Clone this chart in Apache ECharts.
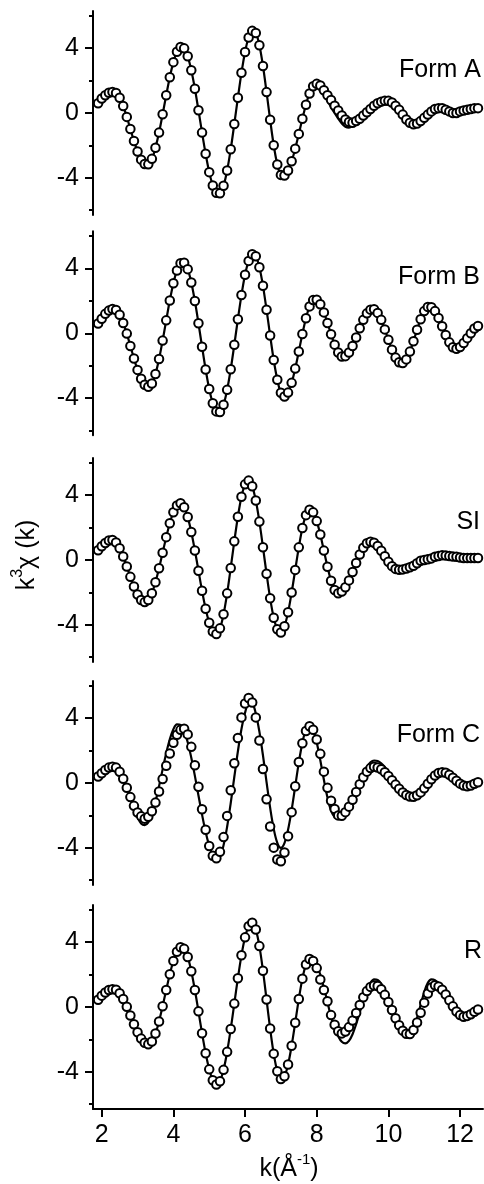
<!DOCTYPE html>
<html><head><meta charset="utf-8">
<script src="https://cdn.jsdelivr.net/npm/echarts@6/dist/echarts.min.js"></script>
<style>html,body{margin:0;padding:0;background:#fff}#c{width:484px;height:1184px}</style>
</head><body><div id="c"></div>
<script>
// k values (Å^-1)
const K = [1.9,2.0,2.1,2.2,2.3,2.4,2.5,2.6,2.7,2.8,
2.9,3.0,3.1,3.2,3.3,3.4,3.5,3.6,3.7,3.8,
3.9,4.0,4.1,4.2,4.3,4.4,4.5,4.6,4.7,4.8,
4.9,5.0,5.1,5.2,5.3,5.4,5.5,5.6,5.7,5.8,
5.9,6.0,6.1,6.2,6.3,6.4,6.5,6.6,6.7,6.8,
6.9,7.0,7.1,7.2,7.3,7.4,7.5,7.6,7.7,7.8,
7.9,8.0,8.1,8.2,8.3,8.4,8.5,8.6,8.7,8.8,
8.9,9.0,9.1,9.2,9.3,9.4,9.5,9.6,9.7,9.8,
9.9,10.0,10.1,10.2,10.3,10.4,10.5,10.6,10.7,10.8,
10.9,11.0,11.1,11.2,11.3,11.4,11.5,11.6,11.7,11.8,
11.9,12.0,12.1,12.2,12.3,12.4,12.5];

const panelNames = ['Form A','Form B','SI','Form C','R'];

const formA_data = [0.6,0.9,1.1,1.25,1.3,1.24,0.94,0.43,-0.24,-0.99,
-1.73,-2.38,-2.88,-3.15,-3.17,-2.83,-2.15,-1.21,-0.08,1.1,
2.21,3.14,3.78,4.08,3.99,3.5,2.64,1.5,0.17,-1.21,
-2.52,-3.65,-4.47,-4.92,-4.96,-4.49,-3.55,-2.24,-0.68,0.94,
2.48,3.77,4.66,5.07,4.94,4.18,2.9,1.29,-0.42,-1.99,
-3.18,-3.82,-3.86,-3.55,-2.98,-2.2,-1.29,-0.35,0.51,1.2,
1.65,1.8,1.7,1.4,1.1,0.8,0.45,0.15,-0.15,-0.4,
-0.55,-0.6,-0.5,-0.35,-0.15,0.05,0.25,0.45,0.6,0.7,
0.75,0.75,0.65,0.45,0.2,-0.1,-0.4,-0.6,-0.7,-0.65,
-0.5,-0.3,-0.1,0.1,0.25,0.3,0.3,0.2,0.1,0.0,
0.0,0.1,0.15,0.2,0.25,0.3,0.3];
const formA_fit = [0.6,0.9,1.12,1.27,1.32,1.24,0.94,0.43,-0.24,-0.99,
-1.73,-2.38,-2.88,-3.18,-3.22,-2.88,-2.15,-1.21,-0.08,1.1,
2.21,3.14,3.8,4.12,4.02,3.5,2.64,1.5,0.17,-1.21,
-2.52,-3.65,-4.47,-4.92,-4.96,-4.49,-3.55,-2.24,-0.68,0.94,
2.48,3.77,4.66,5.07,4.94,4.18,2.9,1.29,-0.42,-1.99,
-3.18,-3.82,-3.86,-3.55,-2.98,-2.2,-1.29,-0.35,0.51,1.25,
1.72,1.9,1.75,1.3,0.8,0.35,0.0,-0.35,-0.65,-0.85,
-0.9,-0.8,-0.6,-0.4,-0.15,0.1,0.3,0.5,0.65,0.78,
0.82,0.8,0.68,0.45,0.18,-0.12,-0.42,-0.62,-0.72,-0.66,
-0.5,-0.3,-0.1,0.1,0.25,0.3,0.28,0.18,0.08,0.0,
0.0,0.08,0.14,0.2,0.25,0.28,0.3];

const formB_data = [0.6,0.9,1.2,1.4,1.5,1.44,1.15,0.64,-0.02,-0.78,
-1.56,-2.26,-2.81,-3.18,-3.3,-3.1,-2.51,-1.59,-0.45,0.8,
2.02,3.09,3.88,4.33,4.36,3.96,3.14,1.99,0.62,-0.83,
-2.23,-3.44,-4.32,-4.82,-4.86,-4.41,-3.49,-2.22,-0.71,0.87,
2.36,3.61,4.47,4.88,4.76,4.08,2.93,1.45,-0.14,-1.65,
-2.87,-3.67,-3.9,-3.66,-3.06,-2.18,-1.12,-0.04,0.93,1.66,
2.05,2.07,1.79,1.29,0.64,-0.06,-0.7,-1.18,-1.43,-1.41,
-1.18,-0.78,-0.26,0.31,0.83,1.23,1.46,1.48,1.26,0.83,
0.24,-0.4,-1.01,-1.5,-1.79,-1.84,-1.61,-1.13,-0.49,0.22,
0.87,1.37,1.63,1.61,1.37,0.95,0.43,-0.1,-0.56,-0.86,
-0.95,-0.85,-0.6,-0.3,0.0,0.3,0.45];
const formB_fit = [0.6,0.9,1.2,1.4,1.5,1.44,1.15,0.64,-0.02,-0.78,
-1.56,-2.26,-2.81,-3.18,-3.3,-3.1,-2.51,-1.59,-0.45,0.8,
2.02,3.09,3.88,4.33,4.36,3.96,3.14,1.99,0.62,-0.83,
-2.23,-3.44,-4.32,-4.82,-4.86,-4.41,-3.49,-2.22,-0.71,0.87,
2.36,3.61,4.47,4.88,4.76,4.08,2.93,1.45,-0.14,-1.65,
-2.87,-3.67,-3.9,-3.66,-3.06,-2.18,-1.12,-0.04,0.93,1.66,
2.05,2.07,1.79,1.29,0.64,-0.06,-0.7,-1.18,-1.43,-1.41,
-1.18,-0.78,-0.26,0.31,0.83,1.23,1.46,1.48,1.26,0.83,
0.24,-0.4,-1.01,-1.5,-1.79,-1.84,-1.61,-1.13,-0.49,0.22,
0.87,1.37,1.63,1.61,1.37,0.95,0.43,-0.1,-0.56,-0.86,
-0.95,-0.85,-0.6,-0.3,0.0,0.3,0.45];

const si_data = [0.6,0.85,1.05,1.2,1.23,1.08,0.72,0.22,-0.4,-1.04,
-1.64,-2.13,-2.47,-2.6,-2.47,-2.05,-1.37,-0.51,0.45,1.41,
2.27,2.95,3.37,3.5,3.26,2.65,1.73,0.59,-0.66,-1.9,
-3.01,-3.87,-4.41,-4.57,-4.22,-3.35,-2.06,-0.49,1.15,2.67,
3.9,4.67,4.9,4.55,3.67,2.37,0.79,-0.85,-2.36,-3.56,
-4.28,-4.47,-4.09,-3.23,-2.01,-0.61,0.78,1.97,2.77,3.1,
2.94,2.4,1.57,0.58,-0.42,-1.28,-1.85,-2.05,-1.95,-1.68,
-1.26,-0.74,-0.18,0.34,0.76,1.03,1.13,1.06,0.86,0.57,
0.23,-0.11,-0.38,-0.55,-0.6,-0.58,-0.52,-0.45,-0.35,-0.2,
-0.05,0.0,0.05,0.1,0.2,0.25,0.3,0.28,0.25,0.22,
0.2,0.15,0.12,0.12,0.12,0.12,0.12];
const si_fit = [0.6,0.85,1.05,1.2,1.23,1.08,0.72,0.22,-0.4,-1.04,
-1.64,-2.13,-2.47,-2.6,-2.47,-2.05,-1.37,-0.51,0.45,1.41,
2.27,2.95,3.37,3.5,3.26,2.65,1.73,0.59,-0.66,-1.9,
-3.01,-3.87,-4.41,-4.57,-4.22,-3.35,-2.06,-0.49,1.15,2.67,
3.9,4.67,4.9,4.55,3.67,2.37,0.79,-0.85,-2.36,-3.56,
-4.28,-4.47,-4.09,-3.23,-2.01,-0.61,0.78,1.97,2.77,3.1,
2.94,2.4,1.57,0.58,-0.42,-1.28,-1.85,-2.05,-1.95,-1.68,
-1.26,-0.74,-0.18,0.34,0.76,1.03,1.13,1.06,0.86,0.57,
0.23,-0.11,-0.38,-0.55,-0.6,-0.58,-0.52,-0.45,-0.35,-0.2,
-0.05,0.0,0.05,0.1,0.2,0.25,0.3,0.28,0.25,0.22,
0.2,0.15,0.12,0.12,0.12,0.12,0.12];

const formC_data = [0.4,0.6,0.8,0.95,1.0,0.95,0.69,0.26,-0.29,-0.87,
-1.41,-1.82,-2.06,-2.2,-2.08,-1.74,-1.21,-0.52,0.25,1.06,
1.82,2.48,2.98,3.28,3.35,3.0,2.23,1.1,-0.23,-1.62,
-2.89,-3.89,-4.49,-4.65,-4.25,-3.34,-2.03,-0.45,1.22,2.78,
4.05,4.91,5.25,4.97,4.05,2.62,0.86,-1.0,-2.69,-3.99,
-4.72,-4.83,-4.29,-3.28,-1.8,-0.2,1.3,2.45,3.21,3.5,
3.29,2.68,1.8,0.7,-0.3,-1.1,-1.6,-2.0,-2.02,-1.8,
-1.46,-1.03,-0.55,-0.07,0.36,0.7,0.92,1.0,0.96,0.85,
0.66,0.43,0.17,-0.1,-0.36,-0.58,-0.74,-0.83,-0.85,-0.76,
-0.58,-0.33,-0.05,0.23,0.46,0.62,0.67,0.63,0.51,0.33,
0.14,-0.04,-0.16,-0.2,-0.15,-0.05,0.05];
const formC_fit = [0.4,0.6,0.8,0.95,1.0,0.95,0.7,0.25,-0.3,-0.9,
-1.55,-2.1,-2.5,-2.6,-2.43,-1.93,-1.16,-0.2,0.84,1.84,
2.7,3.32,3.62,3.59,3.21,2.52,1.56,0.44,-0.77,-1.95,
-3.02,-3.87,-4.45,-4.69,-4.53,-3.84,-2.7,-1.24,0.37,1.95,
3.33,4.34,4.88,4.87,4.28,3.17,1.7,0.06,-1.52,-2.83,
-3.69,-4.0,-3.71,-2.89,-1.66,-0.2,1.26,2.49,3.31,3.6,
3.3,2.5,1.4,0.2,-0.9,-1.7,-2.1,-2.2,-2.12,-1.87,
-1.49,-1.01,-0.46,0.09,0.59,1.0,1.28,1.39,1.36,1.22,
0.99,0.68,0.33,-0.04,-0.38,-0.67,-0.88,-0.99,-0.99,-0.87,
-0.65,-0.36,-0.04,0.27,0.52,0.69,0.75,0.7,0.55,0.35,
0.15,-0.05,-0.15,-0.2,-0.15,-0.05,0.05];

const r_data = [0.45,0.7,0.9,1.05,1.1,1.06,0.85,0.49,0.02,-0.52,
-1.06,-1.56,-1.95,-2.21,-2.3,-2.13,-1.64,-0.89,0.05,1.05,
2.02,2.84,3.41,3.69,3.59,3.09,2.21,1.05,-0.27,-1.62,
-2.85,-3.85,-4.52,-4.78,-4.58,-3.88,-2.77,-1.36,0.21,1.78,
3.19,4.3,4.99,5.2,4.78,3.76,2.24,0.46,-1.33,-2.88,
-3.97,-4.45,-4.27,-3.55,-2.39,-0.97,0.49,1.75,2.62,2.96,
2.84,2.4,1.7,1.05,0.35,-0.5,-1.1,-1.5,-1.63,-1.51,
-1.24,-0.84,-0.37,0.13,0.6,0.98,1.24,1.33,1.3,1.1,
0.75,0.31,-0.19,-0.69,-1.13,-1.46,-1.65,-1.67,-1.42,-0.96,
-0.36,0.27,0.83,1.21,1.34,1.27,1.07,0.77,0.41,0.04,
-0.28,-0.5,-0.6,-0.55,-0.45,-0.3,-0.15];
const r_fit = [0.45,0.7,0.9,1.05,1.1,1.06,0.85,0.49,0.02,-0.52,
-1.06,-1.56,-1.95,-2.21,-2.3,-2.13,-1.64,-0.89,0.05,1.05,
2.02,2.84,3.41,3.69,3.59,3.09,2.21,1.05,-0.27,-1.62,
-2.85,-3.85,-4.52,-4.78,-4.58,-3.88,-2.77,-1.36,0.21,1.78,
3.19,4.3,4.99,5.2,4.78,3.76,2.24,0.46,-1.33,-2.88,
-3.97,-4.45,-4.27,-3.55,-2.39,-0.97,0.49,1.75,2.62,3.0,
2.9,2.6,2.0,1.2,0.3,-0.6,-1.3,-1.8,-2.15,-2.25,
-2.09,-1.68,-1.06,-0.35,0.39,1.02,1.49,1.71,1.67,1.44,
1.06,0.55,-0.02,-0.58,-1.08,-1.45,-1.66,-1.69,-1.32,-0.67,
0.13,0.92,1.49,1.71,1.66,1.45,1.12,0.72,0.29,-0.12,
-0.45,-0.67,-0.75,-0.7,-0.55,-0.35,-0.2];

const yLabelTicks = [-4, 0, 4];
const yMinorTicks = [-6, -2, 2, 6];
const xTicks = [2, 4, 6, 8, 10, 12];

const dataSets = [formA_data, formB_data, si_data, formC_data, r_data];
const fitSets = [formA_fit, formB_fit, si_fit, formC_fit, r_fit];

// layout
const FONT = "'Liberation Sans', Arial, Helvetica, sans-serif";
const zeroY = [113, 333.3, 560, 783, 1007];
const pxPerUnit = 16.2;
const yMin = -6.3, yMax = 6.3;
const xMin = 1.757, xMax = 12.64;
const gridLeft = 93, gridWidth = 390;
const labelPos = [[481, 70], [480, 277], [480, 522], [480, 735], [482, 951]];

const grids = [], xAxes = [], yAxes = [], series = [], graphics = [];
const pair = (arr) => K.map((k, j) => [k, arr[j]]);

for (let i = 0; i < 5; i++) {
  const top = zeroY[i] - yMax * pxPerUnit;
  const h = (yMax - yMin) * pxPerUnit;
  grids.push({ left: gridLeft, top: top, width: gridWidth, height: h });
  const last = i === 4;
  xAxes.push({
    type: 'value', gridIndex: i, min: xMin, max: xMax, show: last,
    axisLine: { show: true, onZero: false, lineStyle: { color: '#000', width: 2 } },
    axisTick: { show: true, length: 8, lineStyle: { color: '#000', width: 2 }, customValues: xTicks },
    axisLabel: { show: true, customValues: xTicks, color: '#000', fontSize: 25, fontFamily: FONT, margin: 14 },
    splitLine: { show: false }
  });
  yAxes.push({
    type: 'value', gridIndex: i, min: yMin, max: yMax, position: 'left',
    axisLine: { show: true, onZero: false, lineStyle: { color: '#000', width: 2 } },
    axisTick: { show: true, length: 8, lineStyle: { color: '#000', width: 2 }, customValues: yLabelTicks },
    axisLabel: { show: true, customValues: yLabelTicks, color: '#000', fontSize: 25, fontFamily: FONT, margin: 14 },
    splitLine: { show: false }
  });
  yAxes.push({
    type: 'value', gridIndex: i, min: yMin, max: yMax, position: 'left',
    axisLine: { show: false },
    axisTick: { show: true, length: 4, lineStyle: { color: '#000', width: 2 }, customValues: yMinorTicks },
    axisLabel: { show: false },
    splitLine: { show: false }
  });
  series.push({
    type: 'line', xAxisIndex: i, yAxisIndex: 2 * i, data: pair(fitSets[i]),
    showSymbol: false, smooth: 0.35, z: 2,
    lineStyle: { color: '#000', width: 2.2 }
  });
  series.push({
    type: 'scatter', xAxisIndex: i, yAxisIndex: 2 * i, data: pair(dataSets[i]),
    symbol: 'circle', symbolSize: 8.5, z: 3,
    itemStyle: { color: '#fff', borderColor: '#000', borderWidth: 2, opacity: 1 }
  });
  graphics.push({
    type: 'text', x: labelPos[i][0], y: labelPos[i][1],
    style: { text: panelNames[i], fontSize: 25, fontFamily: FONT, fill: '#000', align: 'right', verticalAlign: 'middle' }
  });
}

graphics.push({
  type: 'text', x: 25, y: 555, rotation: Math.PI / 2,
  style: {
    text: '{a|k}{s|3}{a|χ (k)}', align: 'center', verticalAlign: 'middle', fill: '#000',
    rich: {
      a: { fontSize: 25, fontFamily: FONT, lineHeight: 30, verticalAlign: 'bottom' },
      s: { fontSize: 16, fontFamily: FONT, lineHeight: 30, verticalAlign: 'top' }
    }
  }
});
graphics.push({
  type: 'text', x: 289, y: 1167,
  style: {
    text: '{a|k(Å}{s|-1}{a|)}', align: 'center', verticalAlign: 'middle', fill: '#000',
    rich: {
      a: { fontSize: 25, fontFamily: FONT, lineHeight: 30, verticalAlign: 'bottom' },
      s: { fontSize: 15, fontFamily: FONT, lineHeight: 30, verticalAlign: 'top' }
    }
  }
});

const chart = echarts.init(document.getElementById('c'), null, { renderer: 'canvas' });
chart.setOption({
  animation: false,
  backgroundColor: '#fff',
  grid: grids, xAxis: xAxes, yAxis: yAxes, series: series, graphic: graphics
});
</script></body></html>
